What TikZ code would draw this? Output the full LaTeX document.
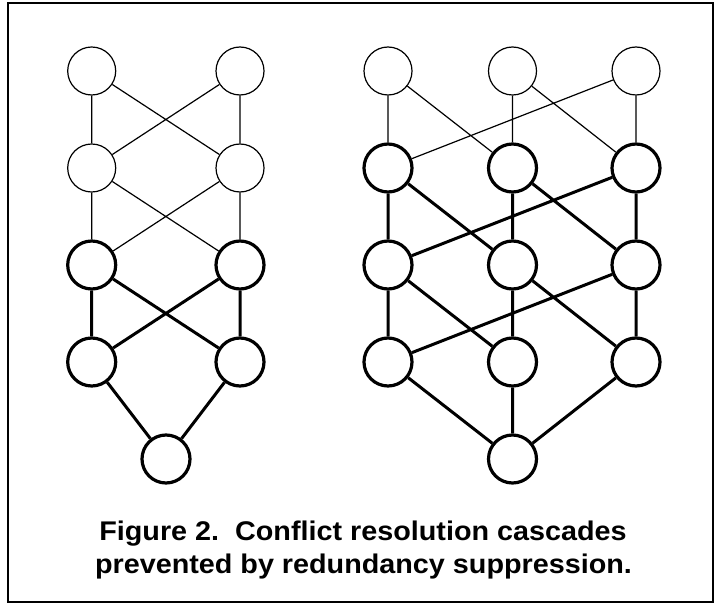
\documentclass[tikz,border=0pt]{standalone}
\usepackage{fontspec}
\setmainfont{Liberation Sans}
\newfontfamily\capfont[FakeStretch=1.065]{Liberation Sans}
\begin{document}
\begin{tikzpicture}[x=1pt,y=-1pt,
  vtx/.style={circle,draw,fill=white,minimum size=48pt,inner sep=0pt},
  thinv/.style={vtx,line width=1.2pt},
  thickv/.style={vtx,line width=3.2pt},
  thinedge/.style={line width=1.2pt},
  thickedge/.style={line width=3pt},
  frame/.style={line width=2pt},
  captext/.style={font=\capfont\fontsize{27}{32}\selectfont\bfseries,anchor=base,inner sep=0pt}]
\useasboundingbox (0,0) rectangle (714,604);
\draw[frame] (7.7,3) rectangle (712.5,602);
% left graph
\def\la{91.7}\def\lb{240}
\node[thinv] (l1a) at (\la,71) {};
\node[thinv] (l1b) at (\lb,71) {};
\node[thinv] (l2a) at (\la,168) {};
\node[thinv] (l2b) at (\lb,168) {};
\node[thickv] (l3a) at (\la,265) {};
\node[thickv] (l3b) at (\lb,265) {};
\node[thickv] (l4a) at (\la,362) {};
\node[thickv] (l4b) at (\lb,362) {};
\node[thickv] (l5) at (166,459) {};
\draw[thinedge] (l1a)--(l2a) (l1a)--(l2b) (l1b)--(l2a) (l1b)--(l2b);
\draw[thinedge] (l2a)--(l3a) (l2a)--(l3b) (l2b)--(l3a) (l2b)--(l3b);
\draw[thickedge] (l3a)--(l4a) (l3a)--(l4b) (l3b)--(l4a) (l3b)--(l4b);
\draw[thickedge] (l4a)--(l5) (l4b)--(l5);
% right graph
\def\ra{388}\def\rb{512.5}\def\rc{636}
\node[thinv] (r1a) at (\ra,71) {};
\node[thinv] (r1b) at (\rb,71) {};
\node[thinv] (r1c) at (\rc,71) {};
\node[thickv] (r2a) at (\ra,168) {};
\node[thickv] (r2b) at (\rb,168) {};
\node[thickv] (r2c) at (\rc,168) {};
\node[thickv] (r3a) at (\ra,265) {};
\node[thickv] (r3b) at (\rb,265) {};
\node[thickv] (r3c) at (\rc,265) {};
\node[thickv] (r4a) at (\ra,362) {};
\node[thickv] (r4b) at (\rb,362) {};
\node[thickv] (r4c) at (\rc,362) {};
\node[thickv] (r5) at (\rb,459) {};
\draw[thinedge] (r1a)--(r2a) (r1a)--(r2b) (r1b)--(r2b) (r1b)--(r2c) (r1c)--(r2c) (r1c)--(r2a);
\draw[thickedge] (r2a)--(r3a) (r2a)--(r3b) (r2b)--(r3b) (r2b)--(r3c) (r2c)--(r3c) (r2c)--(r3a);
\draw[thickedge] (r3a)--(r4a) (r3a)--(r4b) (r3b)--(r4b) (r3b)--(r4c) (r3c)--(r4c) (r3c)--(r4a);
\draw[thickedge] (r4a)--(r5) (r4b)--(r5) (r4c)--(r5);
% caption
\node[captext] (cap1) at (363,540.7) {Figure 2.\ \ Conflict resolution cascades};
\node[captext] (cap2) at (363.5,573) {prevented by redundancy suppression.};
\end{tikzpicture}
\end{document}
